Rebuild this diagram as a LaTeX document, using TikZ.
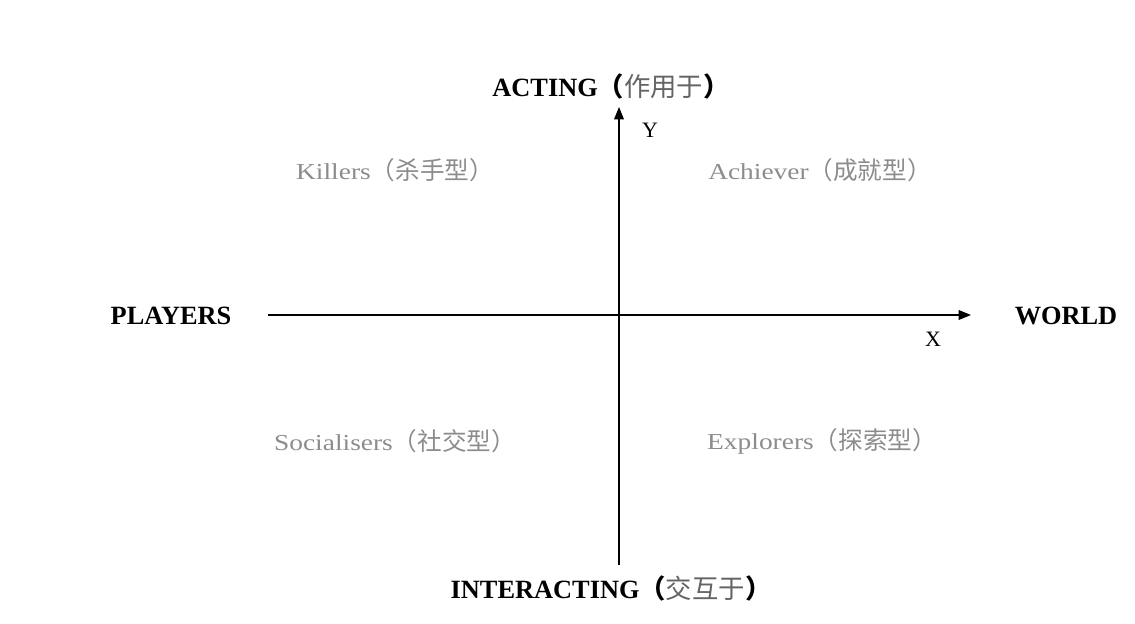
\documentclass[tikz,border=0pt]{standalone}
\usepackage{fontspec}
\setmainfont{Liberation Serif}
\newfontfamily\cjk{Noto Sans CJK SC}
\newfontfamily\quadfont[FakeStretch=1.2]{Liberation Serif}
\usetikzlibrary{arrows.meta}
\definecolor{quadgray}{RGB}{140,140,140}
\definecolor{polegray}{RGB}{100,100,100}
\newcommand{\zh}[1]{{\cjk\mdseries\fontsize{15}{17}\selectfont\color{polegray}#1}}
\newcommand{\br}[1]{{\cjk\bfseries\fontsize{15}{17}\selectfont #1}}
\newcommand{\qzh}[1]{{\cjk\fontsize{14}{16}\selectfont #1}}
\begin{document}
\begin{tikzpicture}[
    axis/.style={black, line width=0.7pt, -{Triangle[length=7pt,width=5.5pt]}},
    pole/.style={font=\fontsize{15}{17}\selectfont\bfseries, inner sep=0pt},
    quad/.style={font=\fontsize{13}{15}\selectfont\quadfont, text=quadgray, inner sep=0pt},
    tag/.style={font=\fontsize{12.5}{14}\selectfont, inner sep=0pt}
  ]
  \useasboundingbox (0,0) rectangle (22.7,12.46);
  % axes
  \coordinate (west) at (5.36,6.16);
  \coordinate (east) at (19.42,6.16);
  \coordinate (south) at (12.38,1.16);
  \coordinate (north) at (12.38,10.32);
  \draw [axis] (west) -- (east);
  \draw [axis] (south) -- (north);
  \draw (13.0,9.86)  node (y_tag) [tag] {Y};
  \draw (18.66,5.68)  node (x_tag) [tag] {X};

  % poles
  \draw (12.22,10.74)  node (acting) [pole] {ACTING\br{（}\zh{作用于}\br{）}};
  \draw (12.22,0.70)  node (interacting) [pole] {INTERACTING\br{（}\zh{交互于}\br{）}};
  \draw (3.42,6.14)  node (players) [pole] {PLAYERS};
  \draw (21.32,6.14)  node (world) [pole] {WORLD};

  % quadrants
  \draw (7.9,9.06)  node (killers) [quad] {Killers\qzh{（杀手型）}};
  \draw (16.4,9.06)  node (achiever) [quad] {Achiever\qzh{（成就型）}};
  \draw (7.9,3.64)  node (socialisers) [quad] {Socialisers\qzh{（社交型）}};
  \draw (16.44,3.64)  node (explorers) [quad] {Explorers\qzh{（探索型）}};
\end{tikzpicture}
\end{document}
